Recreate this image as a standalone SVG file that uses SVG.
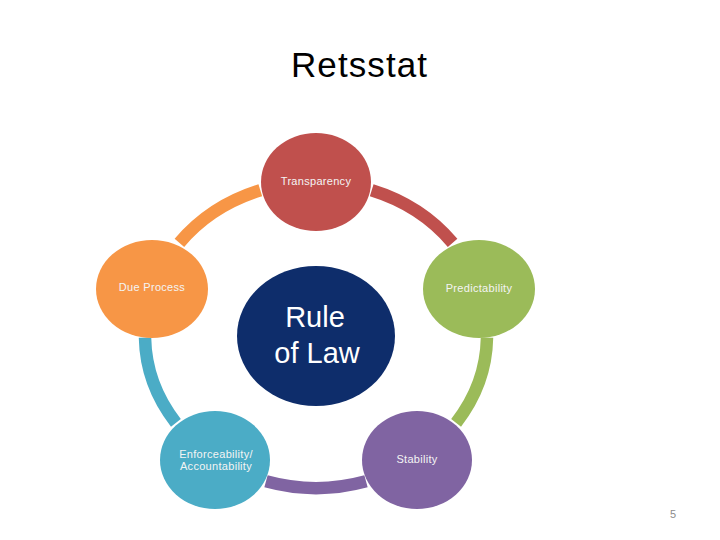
<svg xmlns="http://www.w3.org/2000/svg" width="720" height="540" viewBox="0 0 720 540">
<style>
.lbl{font-family:"Liberation Sans",Arial,sans-serif;font-size:11px;letter-spacing:0.3px;fill:#F4F4F4;text-anchor:middle}
.arc{fill:none;stroke-width:12.5;stroke-linecap:butt}
.title{font-family:"Liberation Sans",Arial,sans-serif;font-size:35px;fill:#000;text-anchor:middle}
.core{font-family:"Liberation Sans",Arial,sans-serif;font-size:29px;fill:#FFFFFF;text-anchor:middle}
</style>
<rect width="720" height="540" fill="#FFFFFF"/>
<text class="title" x="359" y="77" textLength="136">Retsstat</text>
<g id="connectors">
<path class="arc" stroke="#C0504D" d="M371.7,190.3 A171,153 0 0 1 452.6,242.9"/>
<path class="arc" stroke="#9BBB59" d="M487.0,337.7 A171,153 0 0 1 456.1,422.8"/>
<path class="arc" stroke="#8064A2" d="M366.0,481.3 A171,153 0 0 1 266.0,481.3"/>
<path class="arc" stroke="#4BACC6" d="M175.9,422.8 A171,153 0 0 1 145.0,337.7"/>
<path class="arc" stroke="#F79646" d="M179.4,242.9 A171,153 0 0 1 260.3,190.3"/>
</g>
<g id="transparency">
<ellipse cx="316" cy="182" rx="55" ry="49" fill="#C0504D"/>
<text class="lbl" x="316" y="185">Transparency</text>
</g>
<g id="predictability">
<ellipse cx="479" cy="289" rx="56" ry="49" fill="#9BBB59"/>
<text class="lbl" x="479" y="292">Predictability</text>
</g>
<g id="stability">
<ellipse cx="417" cy="460" rx="55" ry="49" fill="#8064A2"/>
<text class="lbl" x="417" y="463">Stability</text>
</g>
<g id="enforceability">
<ellipse cx="215" cy="460" rx="55" ry="49" fill="#4BACC6"/>
<text class="lbl" x="216" y="458">Enforceability/</text>
<text class="lbl" x="216" y="470">Accountability</text>
</g>
<g id="due-process">
<ellipse cx="152" cy="289" rx="56" ry="49" fill="#F79646"/>
<text class="lbl" x="152" y="291">Due Process</text>
</g>
<g id="rule-of-law">
<ellipse cx="316" cy="336" rx="79" ry="70" fill="#0E2D6B"/>
<text class="core" x="315" y="327">Rule</text>
<text class="core" x="317" y="363">of Law</text>
</g>
<text x="673" y="518" font-family="Liberation Sans,Arial,sans-serif" font-size="11" fill="#8C8C8C" text-anchor="middle">5</text>
</svg>
